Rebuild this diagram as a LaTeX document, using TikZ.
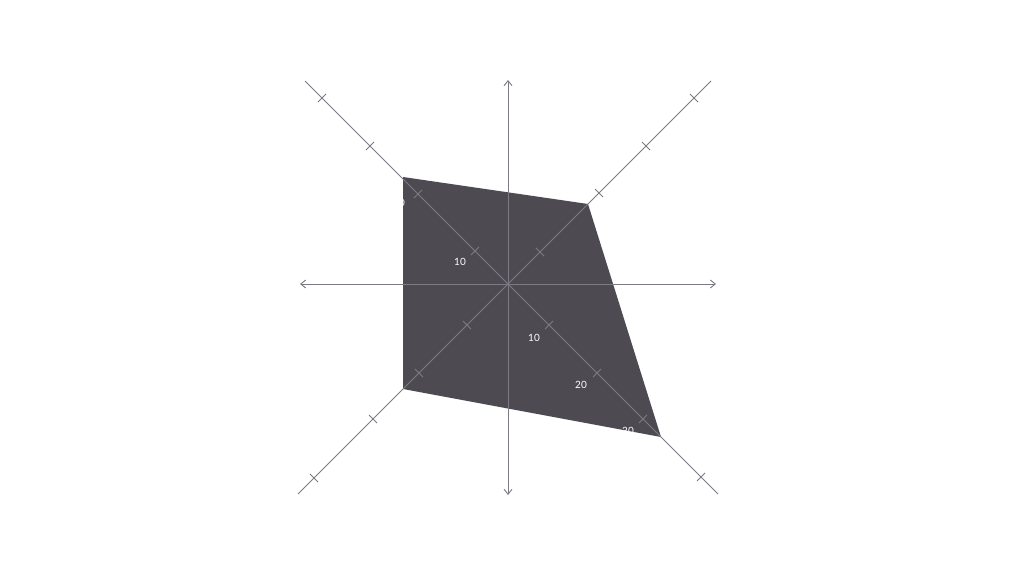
\documentclass[tikz,border=0pt]{standalone}
\usepackage{fontspec}
\setmainfont{Lato}
\usetikzlibrary{arrows.meta}
\definecolor{ax}{HTML}{7C7A82}
\definecolor{fillc}{HTML}{4D4A52}
\begin{document}
\begin{tikzpicture}[x=1pt,y=-1pt,
  axis/.style={draw=ax,line width=0.9pt},
  tick/.style={draw=ax,line width=0.8pt},
  lbl/.style={text=white,font=\fontsize{10}{12}\selectfont}]
\useasboundingbox (0,0) rectangle (1024,577);
\coordinate (O) at (508,284);
\coordinate (P1) at (403,177);
\coordinate (P2) at (588,204);
\coordinate (P3) at (661,437);
\coordinate (P4) at (403,389);
\fill[fillc] (P1) -- (P2) -- (P3) -- (P4) -- cycle;
\begin{scope}
\clip (P1) -- (P2) -- (P3) -- (P4) -- cycle;
\node[lbl] (l1) at (460,262) {10};
\node[lbl] (l2) at (399,203) {20};
\node[lbl] (l3) at (534,338) {10};
\node[lbl] (l4) at (581,385) {20};
\node[lbl] (l5) at (628,431) {30};
\end{scope}
\coordinate (T) at (508,80);
\coordinate (B) at (508,495);
\coordinate (L) at (300,284);
\coordinate (R) at (716,284);
\draw[axis,-{Straight Barb[length=5pt,width=8pt]}] (O) -- (T);
\draw[axis,-{Straight Barb[length=5pt,width=8pt]}] (O) -- (B);
\draw[axis,-{Straight Barb[length=5pt,width=8pt]}] (O) -- (L);
\draw[axis,-{Straight Barb[length=5pt,width=8pt]}] (O) -- (R);
\coordinate (TL) at (305,81);
\coordinate (TR) at (711,81);
\coordinate (BL) at (298,494);
\coordinate (BR) at (718,494);
\draw[axis] (TL) -- (BR);
\draw[axis] (TR) -- (BL);
\foreach \d in {33,90,138,186}{
  \draw[tick] (508-\d-4,284-\d+4) -- (508-\d+4,284-\d-4);}
\foreach \d in {41,89,135,193}{
  \draw[tick] (508+\d-4,284+\d+4) -- (508+\d+4,284+\d-4);}
\foreach \d in {32,91,138,186}{
  \draw[tick] (508+\d-4,284-\d-4) -- (508+\d+4,284-\d+4);}
\foreach \d in {41,89,135,194}{
  \draw[tick] (508-\d-4,284+\d-4) -- (508-\d+4,284+\d+4);}
\end{tikzpicture}
\end{document}
